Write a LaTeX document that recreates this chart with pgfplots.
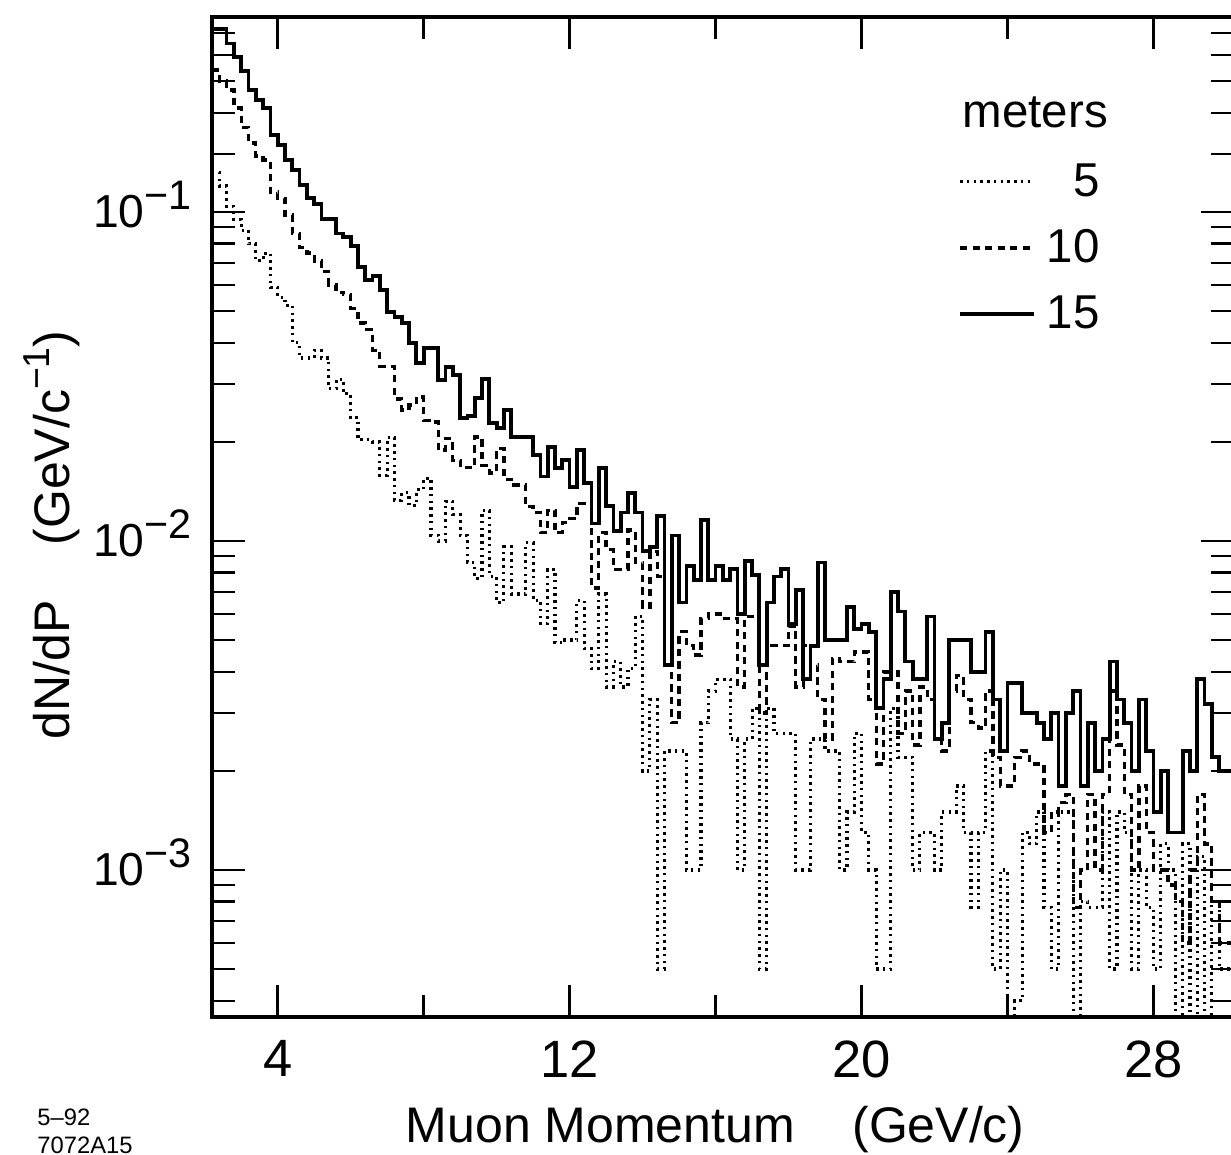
\documentclass[border=0pt]{standalone}
\usepackage{fontspec}
\setmainfont{Liberation Sans}
\usepackage{pgfplots}
\usepackage{pgfplotstable}
\pgfplotsset{compat=1.18}

\newcommand\fs[1]{\fontsize{#1}{#1}\selectfont}
\newcommand\dec[1]{10\smash{\raisebox{7.2pt}{\fs{16.5}−#1}}}

% muon momentum spectra, bins of 0.2 GeV/c (left edges)
\pgfplotstableread{
x p5 p10 p15
2.2 0.132 0.27 0.36
2.4 0.12 0.25 0.36
2.6 0.104 0.235 0.325
2.8 0.095 0.207 0.296
3.0 0.088 0.181 0.268
3.2 0.08 0.162 0.235
3.4 0.071 0.148 0.219
3.6 0.075 0.144 0.207
3.8 0.059 0.115 0.171
4.0 0.055 0.11 0.16
4.2 0.052 0.098 0.144
4.4 0.040 0.086 0.134
4.6 0.036 0.078 0.121
4.8 0.036 0.075 0.11
5.0 0.038 0.071 0.106
5.2 0.036 0.066 0.095
5.4 0.029 0.06 0.095
5.6 0.031 0.057 0.086
5.8 0.028 0.056 0.084
6.0 0.0237 0.051 0.079
6.2 0.0203 0.046 0.068
6.4 0.0203 0.044 0.062
6.6 0.020 0.038 0.064
6.8 0.0158 0.034 0.058
7.0 0.0206 0.034 0.0497
7.2 0.0133 0.027 0.048
7.4 0.014 0.025 0.046
7.6 0.0128 0.0259 0.040
7.8 0.0143 0.0274 0.0347
8.0 0.0155 0.0233 0.0386
8.2 0.0104 0.023 0.0386
8.4 0.010 0.0189 0.0309
8.6 0.0132 0.0205 0.0338
8.8 0.012 0.0176 0.032
9.0 0.0104 0.0167 0.0237
9.2 0.0086 0.0167 0.024
9.4 0.0077 0.0207 0.0272
9.6 0.0124 0.017 0.031
9.8 0.0078 0.0161 0.0228
10.0 0.0065 0.0191 0.022
10.2 0.0096 0.0154 0.025
10.4 0.0069 0.0148 0.0207
10.6 0.0069 0.0148 0.0207
10.8 0.0099 0.0127 0.0207
11.0 0.0066 0.0122 0.0183
11.2 0.0056 0.0106 0.0157
11.4 0.0082 0.0124 0.0193
11.6 0.0049 0.0106 0.0167
11.8 0.005 0.0114 0.0176
12.0 0.005 0.0117 0.0146
12.2 0.0066 0.013 0.0189
12.4 0.0047 0.013 0.015
12.6 0.0041 0.0072 0.0113
12.8 0.0069 0.0106 0.0167
13.0 0.0036 0.0094 0.0128
13.2 0.0043 0.0082 0.0107
13.4 0.0036 0.0082 0.0122
13.6 0.0041 0.0108 0.014
13.8 0.0059 0.0086 0.0122
14.0 0.002 0.0063 0.0093
14.2 0.0033 0.0093 0.0096
14.4 0.0005 0.0078 0.0119
14.6 0.0023 0.0042 0.0042
14.8 0.0023 0.0028 0.0104
15.0 0.0023 0.0053 0.0065
15.2 0.001 0.0048 0.0084
15.4 0.001 0.0045 0.0076
15.6 0.0028 0.0058 0.0116
15.8 0.0035 0.006 0.0076
16.0 0.0038 0.006 0.0084
16.2 0.0038 0.0058 0.0076
16.4 0.0025 0.0058 0.0082
16.6 0.001 0.0036 0.006
16.8 0.0025 0.0059 0.0087
17.0 0.0031 0.0059 0.0079
17.2 0.0005 0.003 0.0042
17.4 0.0031 0.0048 0.0065
17.6 0.0026 0.0048 0.0078
17.8 0.0026 0.0048 0.0082
18.0 0.0026 0.0055 0.0056
18.2 0.001 0.0036 0.0071
18.4 0.001 0.0048 0.0038
18.6 0.0025 0.0042 0.0048
18.8 0.0025 0.0033 0.0086
19.0 0.0023 0.0025 0.005
19.2 0.0023 0.0044 0.005
19.4 0.001 0.0043 0.005
19.6 0.0015 0.0043 0.0063
19.8 0.0026 0.0046 0.0054
20.0 0.0013 0.0046 0.0056
20.2 0.001 0.0033 0.0053
20.4 0.0005 0.0021 0.0031
20.6 0.0005 0.004 0.0038
20.8 0.0031 0.004 0.007
21.0 0.0022 0.0026 0.0061
21.2 0.0022 0.0035 0.0043
21.4 0.001 0.0024 0.0038
21.6 0.0013 0.0036 0.0038
21.8 0.0013 0.0033 0.0059
22.0 0.001 0.0025 0.0025
22.2 0.0015 0.0023 0.0028
22.4 0.0015 0.0035 0.005
22.6 0.0018 0.0039 0.005
22.8 0.0013 0.0033 0.005
23.0 0.00077 0.0028 0.004
23.2 0.0013 0.0027 0.004
23.4 0.0023 0.0035 0.0053
23.6 0.0005 0.0022 0.0033
23.8 0.001 0.0018 0.0023
24.0 0.0003 0.0018 0.0037
24.2 0.0004 0.0022 0.0037
24.4 0.0013 0.0023 0.003
24.6 0.0012 0.0021 0.003
24.8 0.0015 0.0021 0.0028
25.0 0.00077 0.0013 0.0025
25.2 0.0005 0.0015 0.003
25.4 0.0015 0.0016 0.0018
25.6 0.0015 0.0017 0.003
25.8 0.0002 0.00077 0.0035
26.0 0.0008 0.001 0.0018
26.2 0.00077 0.0017 0.0028
26.4 0.00077 0.001 0.002
26.6 0.0015 0.0017 0.0025
26.8 0.0005 0.0035 0.0043
27.0 0.0015 0.0024 0.0033
27.2 0.0013 0.0017 0.0028
27.4 0.0005 0.001 0.002
27.6 0.001 0.0018 0.0033
27.8 0.00077 0.0013 0.0023
28.0 0.0005 0.001 0.0015
28.2 0.0012 0.001 0.002
28.4 0.001 0.0009 0.0013
28.6 0.0003 0.0008 0.0013
28.8 0.0012 0.0006 0.0023
29.0 0.0003 0.001 0.002
29.2 0.0011 0.0017 0.0038
29.4 0.0003 0.0012 0.0032
29.6 0.0008 0.0008 0.0022
29.8 0.0005 0.0006 0.002
30.2 0.0005 0.0006 0.002
}\muons

\begin{document}
\begin{tikzpicture}
\useasboundingbox (-84.8pt,-55.2pt) rectangle (407.6pt,406.8pt);
\begin{axis}[
    scale only axis,
    width=408.7pt, height=400pt,
    xmin=2.2, xmax=30.2,
    ymode=log, ymin=3.574e-4, ymax=0.3915,
    xtick={4,12,20,28}, xticklabels={4,12,20,28},
    minor xtick={8,16,24},
    ytick={1e-3,1e-2,1e-1}, yticklabels={\dec{3},\dec{2},\dec{1}},
    minor ytick={4e-4,5e-4,6e-4,7e-4,8e-4,9e-4,
                 2e-3,3e-3,4e-3,5e-3,6e-3,7e-3,8e-3,9e-3,
                 2e-2,3e-2,4e-2,5e-2,6e-2,7e-2,8e-2,9e-2,
                 0.15,0.2,0.25,0.3,0.35},
    major tick length=13pt, minor tick length=9pt,
    every tick/.append style={line width=1.1pt, black},
    axis line style={line width=1.5pt},
    xticklabel style={font=\fs{21}, yshift=-6pt},
    yticklabel style={font=\fs{18.5}, xshift=-4.6pt},
    xlabel={Muon Momentum\hspace{1.15em}(GeV/c)},
    xlabel style={font=\fs{20}, at={(axis description cs:0.4926,-0.125)}, anchor=base},
    ylabel={dN/dP\hspace{1.1em}(GeV/c\raisebox{8pt}{\fs{15}−1})},
    ylabel style={font=\fs{20}, at={(axis description cs:-0.139,0.482)}, anchor=base},
    legend image code/.code={\draw[#1] (0pt,0pt) -- (29.6pt,0pt); \path (33pt,0pt);},
    legend style={draw=none, fill=none, inner sep=0pt, font=\fs{19},
        at={(axis description cs:0.8718,0.8565)}, anchor=north east,
        row sep=9.8pt, nodes={inner sep=1pt}},
    legend cell align=right,
]
\addplot[const plot, black, line width=1.25pt, dash pattern=on 1pt off 1.7pt] table[x=x, y=p5] {\muons};
\addlegendentry{5}
\addplot[const plot, black, line width=1.3pt, dash pattern=on 2.9pt off 2.1pt] table[x=x, y=p10] {\muons};
\addlegendentry{10}
\addplot[const plot, black, line width=1.5pt] table[x=x, y=p15] {\muons};
\addlegendentry{15}
\node[anchor=base east, inner sep=0pt, font=\fs{19}] at (axis description cs:0.8772,0.89) {meters};
\end{axis}
\node[anchor=base west, inner sep=0pt, font=\fs{9.5}] at (-70pt,-43.6pt) {5–92};
\node[anchor=base west, inner sep=0pt, font=\fs{9.5}] at (-70pt,-54.6pt) {7072A15};
\end{tikzpicture}
\end{document}
